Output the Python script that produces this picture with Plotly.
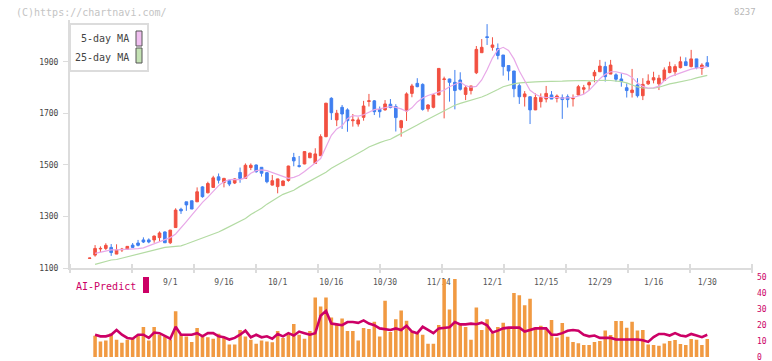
import plotly.graph_objects as go

# ---------------- data ----------------
tick_idx = [15, 25, 35, 45, 55, 65, 75, 85, 95, 105, 115]
tick_txt = ["9/1", "9/16", "10/1", "10/16", "10/30", "11/14", "12/1", "12/15", "12/29", "1/16", "1/30"]

opens = [1137.5, 1150, 1174, 1176, 1180, 1154, 1170, 1173, 1189, 1197, 1209, 1209, 1209, 1218, 1240, 1198,
         1257, 1328, 1357, 1361, 1357, 1415, 1392, 1413, 1454, 1432, 1439, 1430, 1471, 1448, 1490, 1500,
         1491, 1470, 1422, 1416, 1420, 1440, 1529, 1497, 1504, 1528, 1506, 1536, 1610, 1759, 1675, 1724,
         1714, 1672, 1659, 1685, 1747, 1749, 1716, 1714, 1736, 1727, 1645, 1710, 1778, 1817, 1813, 1718,
         1724, 1772, 1832, 1834, 1821, 1830, 1774, 1789, 1858, 1936, 1998, 1957, 1952, 1927, 1886, 1865,
         1808, 1765, 1765, 1714, 1746, 1756, 1772, 1759, 1762, 1765, 1757, 1772, 1794, 1811, 1846, 1862,
         1882, 1853, 1850, 1834, 1800, 1781, 1811, 1769, 1815, 1830, 1815, 1828, 1859, 1862, 1878, 1901,
         1882, 1912, 1875, 1897]
highs = [1139, 1189, 1184, 1196, 1193, 1192, 1178, 1184, 1197, 1209, 1219, 1215, 1226, 1242, 1242, 1248,
         1332, 1334, 1357, 1361, 1413, 1418, 1435, 1458, 1467, 1450, 1445, 1449, 1490, 1506, 1506, 1502,
         1491, 1472, 1461, 1447, 1440, 1497, 1547, 1535, 1554, 1548, 1565, 1619, 1741, 1763, 1714, 1733,
         1720, 1698, 1685, 1749, 1776, 1752, 1727, 1752, 1756, 1736, 1675, 1782, 1815, 1837, 1817, 1736,
         1775, 1876, 1843, 1835, 1869, 1860, 1808, 1807, 1962, 1989, 2047, 1996, 1972, 1927, 1886, 1865,
         1817, 1787, 1766, 1778, 1778, 1807, 1787, 1774, 1774, 1774, 1774, 1811, 1811, 1826, 1869, 1908,
         1901, 1908, 1856, 1856, 1817, 1873, 1837, 1837, 1852, 1862, 1850, 1879, 1901, 1891, 1921, 1918,
         1947, 1912, 1895, 1923]
lows = [1137, 1144, 1162, 1170, 1147, 1154, 1162, 1170, 1179, 1184, 1197, 1196, 1198, 1202, 1198, 1193,
        1256, 1310, 1322, 1329, 1357, 1373, 1390, 1413, 1428, 1413, 1418, 1426, 1431, 1447, 1480, 1470,
        1455, 1429, 1420, 1390, 1418, 1435, 1495, 1490, 1503, 1527, 1504, 1535, 1608, 1675, 1651, 1640,
        1629, 1649, 1649, 1672, 1727, 1694, 1684, 1711, 1720, 1630, 1610, 1671, 1763, 1802, 1711, 1707,
        1720, 1771, 1681, 1746, 1716, 1789, 1752, 1774, 1853, 1936, 1966, 1944, 1910, 1847, 1828, 1763,
        1737, 1727, 1659, 1713, 1723, 1743, 1756, 1743, 1679, 1723, 1727, 1771, 1776, 1791, 1821, 1862,
        1824, 1853, 1824, 1804, 1762, 1762, 1762, 1752, 1811, 1817, 1791, 1826, 1856, 1846, 1875, 1885,
        1879, 1872, 1850, 1881]
closes = [1138.5, 1176, 1176, 1188, 1160, 1170, 1173, 1184, 1180, 1188, 1201, 1201, 1224, 1236, 1198, 1247,
          1325, 1322, 1345, 1329, 1396, 1377, 1428, 1450, 1441, 1448, 1426, 1446, 1448, 1499, 1499, 1474,
          1468, 1435, 1439, 1446, 1438, 1496, 1516, 1495, 1552, 1546, 1543, 1610, 1740, 1703, 1701, 1698,
          1672, 1675, 1675, 1729, 1749, 1707, 1707, 1737, 1723, 1684, 1672, 1776, 1807, 1804, 1716, 1733,
          1772, 1875, 1834, 1821, 1789, 1794, 1800, 1807, 1949, 1957, 1995, 1966, 1925, 1882, 1865, 1796,
          1765, 1776, 1714, 1762, 1762, 1778, 1756, 1768, 1754, 1754, 1759, 1804, 1800, 1820, 1860, 1884,
          1843, 1888, 1833, 1824, 1789, 1791, 1769, 1813, 1826, 1839, 1837, 1869, 1882, 1882, 1901, 1886,
          1912, 1878, 1888, 1882]

ma5 = [1157, 1161, 1166, 1170, 1170, 1171, 1173, 1174, 1175, 1178, 1186, 1193, 1204, 1212, 1218,
       1232, 1258, 1280, 1305, 1330, 1355, 1375, 1398, 1420, 1435, 1443, 1444, 1443, 1450, 1468,
       1478, 1481, 1478, 1470, 1462, 1455, 1448, 1452, 1460, 1475, 1490, 1508, 1525, 1570, 1615,
       1640, 1652, 1680, 1692, 1690, 1695, 1705, 1715, 1718, 1722, 1727, 1724, 1718, 1708, 1722,
       1745, 1760, 1770, 1777, 1782, 1790, 1804, 1812, 1822, 1808, 1802, 1805, 1830, 1870, 1915,
       1948, 1957, 1945, 1912, 1865, 1825, 1790, 1775, 1765, 1762, 1763, 1762, 1760, 1760, 1762,
       1768, 1775, 1790, 1812, 1835, 1852, 1862, 1862, 1858, 1852, 1840, 1818, 1805, 1798, 1800,
       1806, 1828, 1842, 1850, 1858, 1866, 1872, 1876, 1879, 1882]
ma25 = [1114, 1120, 1126, 1131, 1133, 1138, 1143, 1148, 1153, 1158, 1164, 1170, 1175, 1180, 1182,
        1184, 1186, 1193, 1201, 1208, 1214, 1222, 1230, 1240, 1250, 1261, 1272, 1282, 1292, 1308,
        1320, 1332, 1348, 1362, 1374, 1386, 1395, 1402, 1415, 1426, 1437, 1448, 1458, 1472, 1487,
        1500, 1511, 1522, 1533, 1545, 1557, 1570, 1580, 1587, 1594, 1600, 1611, 1622, 1630, 1642,
        1655, 1667, 1678, 1690, 1700, 1711, 1722, 1732, 1739, 1745, 1751, 1756, 1764, 1773, 1782,
        1793, 1804, 1810, 1815, 1819, 1821, 1822, 1823, 1824, 1824, 1825, 1826, 1826, 1827, 1828,
        1828, 1828, 1827, 1828, 1829, 1829, 1828, 1827, 1824, 1819, 1810, 1803, 1799, 1798, 1798,
        1802, 1809, 1815, 1819, 1823, 1827, 1832, 1838, 1843, 1848]

ai_bars = [13.4, 9.7, 10.3, 15, 10.9, 9, 10.9, 11.9, 14, 18.9, 10.3, 18.9, 14, 12.9, 10.9, 28.7,
           14, 12.9, 9.4, 18.3, 14, 12.5, 11.5, 14.6, 11.9, 7.8, 7.8, 17, 12.9, 10.9, 8.4, 10.3,
           9.7, 9.2, 16.4, 11.9, 14, 20.7, 14, 11.5, 16.4, 37.4, 31.8, 37.4, 24.8, 20.1, 24.2, 16.4,
           16.4, 10.3, 18.3, 17.6, 22.2, 12.9, 35.4, 15.8, 23.8, 29.3, 22.8, 15.8, 15, 14, 8.4, 8.4,
           20.1, 49, 29.9, 49, 20.1, 18.9, 10.9, 31.2, 17, 23.8, 15, 18.9, 21.6, 18.7, 40.3, 38.8,
           32.5, 36.7, 18.7, 19.7, 17.5, 23.3, 12.2, 21.4, 12.8, 9.5, 8.6, 7.6, 7.6, 9.5, 10.1, 16.6,
           13.8, 22.6, 22.6, 18.4, 22.2, 16.6, 17, 7.8, 7.6, 7, 8.5, 10.1, 10.7, 8.2, 7.6, 11.3,
           10.9, 7.6, 11.3]
ai_line = [14, 13, 13, 14, 17, 14, 12, 11.5, 14, 14, 12, 15.4, 15, 13, 11.5, 19, 14, 14, 14, 15,
           13, 15, 15, 13, 12.4, 11, 12, 14, 16.6, 12.4, 14, 12.4, 13, 11.5, 14.5, 13, 15, 13.5, 16,
           15, 14, 15, 26, 29, 21, 20.5, 20, 22, 22, 21.5, 23, 21, 20, 18, 17.6, 17, 18, 17, 19.6, 16,
           15, 19, 17, 15, 18, 18.5, 18.7, 22, 20.5, 20.5, 21, 20.6, 21.6, 20, 15.4, 16.6, 18, 18.5,
           18.7, 18.5, 16, 17, 18, 18, 18, 14, 14, 15, 16.5, 17, 16.5, 14, 13, 13.5, 12, 12, 12, 11,
           11, 11, 11, 11, 10.5, 9.5, 12.5, 14.5, 14.5, 13.5, 15, 13.5, 13, 14.5, 13.5, 12.5, 14]

idx = list(range(len(closes)))
sub_idx = idx[1:]

# ---------------- styling ----------------
W, H = 772, 361
L, R, T, B = 70, 20, 20, 0
PH = H - T - B
PW = W - L - R
RED, BLUE = "#f25041", "#3f7ff0"
PINK, GREEN = "#e8a8e8", "#b3dba3"
MAG, ORANGE = "#cc0066", "#f19a42"
FONT = "DejaVu Sans Mono"

def py(ypx):  # pixel y -> paper
    return (H - B - ypx) / PH

def px(xpx):  # pixel x -> paper
    return (xpx - L) / PW

xr = [-3.67, 123.33]
# bottom panel: value 0 sits at pixel 357, value 50 at 277.5; panel runs to the picture's bottom edge
unit = (357 - 277.5) / 50.0
y2_low = -(H - 357) / unit

fig = go.Figure()
fig.add_trace(go.Candlestick(
    x=idx, open=opens, high=highs, low=lows, close=closes,
    increasing=dict(line=dict(color=RED, width=1), fillcolor=RED),
    decreasing=dict(line=dict(color=BLUE, width=1), fillcolor=BLUE),
    whiskerwidth=0, xaxis="x", yaxis="y", showlegend=False, hoverinfo="skip"))
fig.add_trace(go.Scatter(x=sub_idx, y=ma25, mode="lines", line=dict(color=GREEN, width=1.2),
                         xaxis="x", yaxis="y", showlegend=False, hoverinfo="skip"))
fig.add_trace(go.Scatter(x=sub_idx, y=ma5, mode="lines", line=dict(color=PINK, width=1.2),
                         xaxis="x", yaxis="y", showlegend=False, hoverinfo="skip"))
fig.add_trace(go.Bar(x=sub_idx, y=ai_bars, marker=dict(color=ORANGE, line=dict(width=0)), width=0.66,
                     xaxis="x2", yaxis="y2", showlegend=False, hoverinfo="skip"))
fig.add_trace(go.Scatter(x=sub_idx, y=ai_line, mode="lines", line=dict(color=MAG, width=2.6),
                         xaxis="x2", yaxis="y2", showlegend=False, hoverinfo="skip"))

main_bottom = py(268)
fig.update_layout(
    width=W, height=H, margin=dict(l=L, r=R, t=T, b=B, autoexpand=False),
    paper_bgcolor="white", plot_bgcolor="white",
    font=dict(family=FONT, color="#444"),
    xaxis=dict(domain=[0, 1], range=xr, anchor="y", showgrid=False, zeroline=False,
               showline=True, linecolor="#dcdcdc", linewidth=2,
               tickmode="array", tickvals=tick_idx, ticktext=tick_txt, ticks="",
               tickfont=dict(size=8, color="#555", family=FONT), ticklabelstandoff=5,
               rangeslider=dict(visible=False), fixedrange=True),
    yaxis=dict(domain=[main_bottom, 1], range=[1100, 2063], anchor="x", showgrid=False,
               zeroline=False, showline=True, linecolor="#dcdcdc", linewidth=2,
               ticks="outside", ticklen=5, tickcolor="#dcdcdc", tickwidth=1,
               tickvals=[1100, 1300, 1500, 1700, 1900],
               tickfont=dict(size=8, color="#444", family=FONT), ticklabelstandoff=3),
    xaxis2=dict(domain=[0, 1], range=xr, anchor="y2", showgrid=False, zeroline=False,
                showline=False, showticklabels=False, ticks=""),
    yaxis2=dict(domain=[0, py(277.5)], range=[y2_low, 50], anchor="x2", side="right",
                showgrid=False, zeroline=False, showline=False, ticks="",
                tickvals=[0, 10, 20, 30, 40, 50], ticklabeloverflow="allow",
                tickfont=dict(size=8, color=MAG, family=FONT), ticklabelstandoff=4),
    bargap=0.3,
)

shapes = []
# x-axis tick marks (evenly spaced, crossing the axis line)
for k in range(12):
    xp = k / 11
    shapes.append(dict(type="line", xref="paper", yref="paper", x0=xp, x1=xp,
                       y0=py(273), y1=py(264), line=dict(color="#dcdcdc", width=2)))
# legend box
shapes.append(dict(type="rect", xref="paper", yref="paper", x0=px(70), x1=px(148),
                   y0=py(71), y1=py(24), fillcolor="white", line=dict(color="#dcdcdc", width=2),
                   layer="above"))
shapes.append(dict(type="rect", xref="paper", yref="paper", x0=px(136), x1=px(142),
                   y0=py(46), y1=py(31), fillcolor="#f0bff0", line=dict(color="#555", width=1),
                   layer="above"))
shapes.append(dict(type="rect", xref="paper", yref="paper", x0=px(136), x1=px(142),
                   y0=py(63), y1=py(48), fillcolor="#c4e2b4", line=dict(color="#555", width=1),
                   layer="above"))
# AI-Predict swatch
shapes.append(dict(type="rect", xref="paper", yref="paper", x0=px(143), x1=px(149),
                   y0=py(293), y1=py(277), fillcolor=MAG, line=dict(width=0), layer="above"))
fig.update_layout(shapes=shapes)

ann = [
    dict(text="(C)https://chartnavi.com/", x=px(14), y=py(12), xanchor="left", yanchor="middle",
         font=dict(size=10, color="#c4c4c4", family=FONT)),
    dict(text="8237", x=px(758), y=py(12), xanchor="right", yanchor="middle",
         font=dict(size=9, color="#b8b8b8", family=FONT)),
    dict(text="5-day MA", x=px(131), y=py(39), xanchor="right", yanchor="middle",
         font=dict(size=10, color="#444", family=FONT)),
    dict(text="25-day MA", x=px(131), y=py(57), xanchor="right", yanchor="middle",
         font=dict(size=10, color="#444", family=FONT)),
    dict(text="AI-Predict", x=px(74), y=py(286), xanchor="left", yanchor="middle",
         font=dict(size=10, color=MAG, family=FONT)),
]
for a in ann:
    a.update(xref="paper", yref="paper", showarrow=False)
fig.update_layout(annotations=ann)

fig.write_html(
    "out.html",
    config={"staticPlot": True},
    post_script="document.body.style.margin='0';document.body.style.overflow='hidden';",
)
